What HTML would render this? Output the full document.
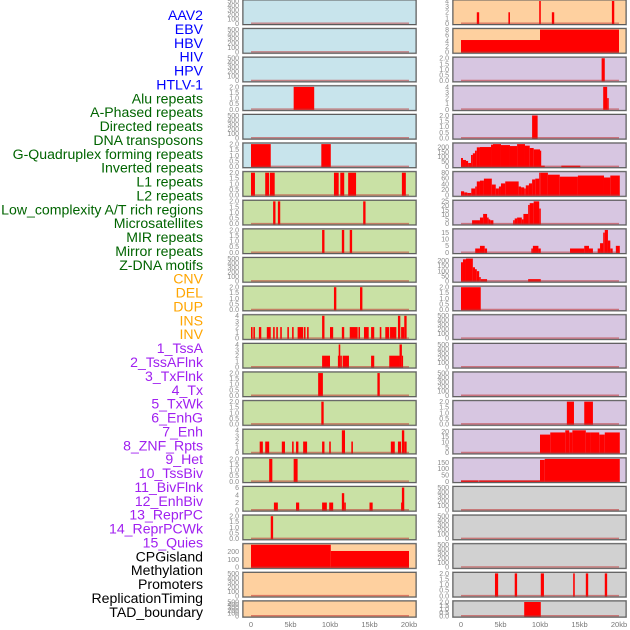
<!DOCTYPE html>
<html><head><meta charset="utf-8">
<style>
html,body{margin:0;padding:0;background:#fff;}
svg{display:block;font-family:"Liberation Sans",sans-serif;}
</style></head>
<body>
<svg id="chart" width="630" height="630" viewBox="0 0 630 630" xmlns="http://www.w3.org/2000/svg"></svg>
<script>
const trackLabels = ["AAV2","EBV","HBV","HIV","HPV","HTLV-1","Alu repeats","A-Phased repeats","Directed repeats","DNA transposons","G-Quadruplex forming repeats","Inverted repeats","L1 repeats","L2 repeats","Low_complexity A/T rich regions","Microsatellites","MIR repeats","Mirror repeats","Z-DNA motifs","CNV","DEL","DUP","INS","INV","1_TssA","2_TssAFlnk","3_TxFlnk","4_Tx","5_TxWk","6_EnhG","7_Enh","8_ZNF_Rpts","9_Het","10_TssBiv","11_BivFlnk","12_EnhBiv","13_ReprPC","14_ReprPCWk","15_Quies","CPGisland","Methylation","Promoters","ReplicationTiming","TAD_boundary"];
const labelGroups = ["v","v","v","v","v","v","r","r","r","r","r","r","r","r","r","r","r","r","r","s","s","s","s","s","c","c","c","c","c","c","c","c","c","c","c","c","c","c","c","o","o","o","o","o"];
const trackYMax = [500,500,500,2,500,2,2,2,2,500,2,4,4,2,2,4,2,6,2,290,500,500,
                   4,8,2,4,2,230,80,25,17,220,2,500,500,500,2,21,178,500,500,500,2,2];
const trackTicks = [
 [0,100,200,300,400,500],[0,100,200,300,400,500],[0,100,200,300,400,500],[0,0.5,1,1.5,2],[0,100,200,300,400,500],[0,0.5,1,1.5,2],
 [0,0.5,1,1.5,2],[0,0.5,1,1.5,2],[0,0.5,1,1.5,2],[0,100,200,300,400,500],[0,0.5,1,1.5,2],[0,1,2,3,4],[0,1,2,3,4],[0,0.5,1,1.5,2],
 [0,0.5,1,1.5,2],[0,1,2,3,4],[0,0.5,1,1.5,2],[0,2,4,6],[0,0.5,1,1.5,2],[0,100,200],[0,100,200,300,400,500],[0,100,200,300,400,500],
 [0,1,2,3,4],[0,2,4,6,8],[0,0.5,1,1.5,2],[0,1,2,3,4],[0,0.5,1,1.5,2],[0,50,100,150,200],[0,20,40,60,80],[0,5,10,15,20,25],[0,5,10,15],[0,50,100,150,200],
 [0,0.5,1,1.5,2],[0,100,200,300,400,500],[0,100,200,300,400,500],[0,100,200,300,400,500],[0,0.5,1,1.5,2],[0,5,10,15,20],[0,50,100,150],
 [0,100,200,300,400,500],[0,100,200,300,400,500],[0,100,200,300,400,500],[0,0.5,1,1.5,2],[0,0.5,1,1.5,2]];
const trackSegments = [
 [],[],[],
 [[5.4,8.0,2]],
 [],
 [[0,2.5,2],[8.9,10.1,2]],
 [[0,0.5,2],[1.8,2.3,2],[2.4,3.0,2],[10.5,11.1,2],[11.3,11.8,2],[12.3,13.3,2],[19.1,19.6,2]],
 [[2.8,3.1,2],[3.4,3.7,2],[14.2,14.5,2]],
 [[9.0,9.3,2],[11.5,11.8,2],[12.5,12.8,2]],
 [],
 [[10.5,10.8,2],[13.8,14.1,2]],
 [[0,0.2,2],[0.3,0.5,2],[1.0,1.3,2],[2.0,2.5,2],[2.8,3.0,2],[3.2,3.4,2],[3.7,3.9,2],[4.6,4.8,2],[5.2,5.4,2],[5.9,6.6,2],[6.7,6.9,2],[7.1,7.3,2],[9.0,9.3,4],[10.0,10.4,2],[11.5,11.8,2],[12.5,13.5,2],[13.6,13.8,2],[14.3,14.9,2],[15.2,15.6,2],[16.3,16.5,2],[17.0,17.5,2],[17.6,18.4,2],[18.6,18.9,4],[19.0,19.4,2],[19.4,19.7,4]],
 [[9.0,10.0,2],[11.0,11.1,2],[11.1,11.3,4],[11.3,11.5,2],[11.6,12.4,2],[15.2,15.6,2],[17.5,18.8,2],[18.8,19.1,4],[19.1,19.2,2]],
 [[8.5,9.1,2],[16.0,16.3,2]],
 [[8.9,9.2,2]],
 [[1.1,1.5,2],[1.8,2.3,2],[3.9,4.3,2],[5.2,5.4,2],[5.7,6.0,2],[6.6,7.1,2],[9.0,9.3,2],[9.9,10.1,2],[11.5,11.9,4],[12.7,12.9,2],[17.7,18.2,2],[18.6,19.0,2],[19.1,19.4,4],[19.4,19.7,2]],
 [[2.3,2.7,2],[5.4,5.9,2]],
 [[2.9,3.4,2],[5.7,6.1,2],[9.0,9.6,2],[9.9,10.4,2],[11.5,11.8,4.5],[11.8,12.0,2],[15.0,15.4,2],[19.0,19.1,2],[19.1,19.4,6]],
 [[2.5,2.8,2]],
 [[0,10.1,290],[10.1,20,210]],
 [],[],
 [[2.0,2.3,2],[6.0,6.2,2],[9.9,10.1,4],[11.5,11.8,2],[19.1,19.4,4]],
 [[0,10,4.3],[10,20,8]],
 [[17.8,18.2,2]],
 [[18.0,18.5,4],[18.5,18.7,2]],
 [[9.0,9.7,2]],
 [[0,0.25,88],[0.25,0.63,68],[0.63,0.9,58],[0.9,1.27,37],[1.27,1.5,119],[1.5,1.77,136],[1.77,2.0,163],[2.0,2.4,197],[2.4,3.8,200],[3.8,4.05,224],[4.05,5.06,237],[5.06,6.2,220],[6.2,7.1,210],[7.1,8.1,230],[8.1,8.7,214],[8.7,9.2,190],[9.2,10.0,176],[10.0,10.1,163],[10.1,10.6,10],[12.7,15.1,10]],
 [[0,0.4,14],[0.4,0.8,10],[0.8,1.3,8],[1.3,1.8,24],[1.8,2.0,31],[2.0,2.4,49],[2.4,2.9,52],[2.9,3.9,59],[3.9,4.4,38],[4.4,4.8,24],[4.8,5.06,31],[5.06,5.6,42],[5.6,7.3,49],[7.3,7.6,31],[7.6,8.0,28],[8.0,8.2,24],[8.2,8.6,35],[8.6,9.0,42],[9.0,9.4,56],[9.4,9.9,59],[9.9,10.1,80],[10.1,11.0,80],[11.0,12.5,73],[12.5,14.8,66],[14.8,18.1,70],[18.1,18.9,63],[18.9,20.1,70]],
 [[1.4,2.4,4],[2.4,2.8,7],[2.8,3.3,11],[3.3,3.5,7],[3.5,3.7,5],[3.7,4.1,4],[6.6,6.8,4],[6.8,7.1,6],[7.1,7.7,7],[7.7,7.9,5],[7.9,8.5,11],[8.5,8.7,21],[8.7,9.2,23],[9.2,9.9,25],[9.9,10.1,17]],
 [[1.8,2.4,3],[2.4,3.0,5],[3.0,3.3,3],[8.9,9.1,3],[9.1,9.8,5],[9.8,10.1,3],[13.8,15.6,3],[15.6,16.2,5],[16.2,16.7,3],[17.3,17.6,3],[17.6,18.0,7],[18.0,18.2,15],[18.2,18.6,17],[18.6,18.9,9],[18.9,19.2,3],[19.6,20.1,5]],
 [[0,0.25,184],[0.25,0.63,213],[0.63,1.5,232],[1.5,1.77,135],[1.77,2.0,116],[2.0,2.3,97],[2.3,2.5,39],[2.5,3.3,19],[8.5,10.1,19]],
 [[0,2.5,2]],
 [],[],[],
 [[13.4,14.3,2],[15.6,16.7,2]],
 [[10.0,11.3,17],[11.3,13.2,19],[13.2,13.7,21],[13.7,14.1,19],[14.1,15.8,21],[15.8,16.4,19],[16.4,17.5,19],[17.5,18.2,17],[18.2,20.1,19]],
 [[0,2.2,8],[2.3,10.0,8],[10.0,10.6,170],[10.6,20.1,178]],
 [],[],[],
 [[4.3,4.7,2],[6.8,7.1,2],[10.1,10.5,2],[14.2,14.4,2],[15.8,16.1,2],[18.2,18.5,2]],
 [[8.0,10.1,2]]
];
const xTickValues = [0,5,10,15,20];
const xTickLabels = ["0","5kb","10kb","15kb","20kb"];

const NS = "http://www.w3.org/2000/svg";
const svg = document.getElementById("chart");
function mk(tag, attrs, parent){
  const e = document.createElementNS(NS, tag);
  for (const k in attrs) e.setAttribute(k, attrs[k]);
  (parent||svg).appendChild(e);
  return e;
}
const groupColor = {v:"#0000ff", r:"#006400", s:"#ffa500", c:"#a020f0", o:"#000000"};
const groupBg = {v:"#c8e4ec", r:"#c9e1a5", s:"#fed09f", c:"#d7c6e1", o:"#d1d1d1"};

trackLabels.forEach((name,i)=>{
  const t = mk("text",{x:203,y:15+i*13.88+5,"text-anchor":"end","font-size":"14.1",fill:groupColor[labelGroups[i]]});
  
  
  t.textContent = name;
});

const PXKB = 7.9;
function xScale(col, kb){ return 251 + col*210 + kb*PXKB; }
function fmt(v, ticks){
  const dec = ticks.some(t=>t%1!==0);
  return dec ? v.toFixed(1) : String(v);
}

for (let i=0;i<44;i++){
  const col = i<22?0:1, row = i%22;
  const top = row<21 ? row*28.62 : 601;
  const h = row<21 ? 24.5 : 16;
  const px = 243 + col*210, pw = 173;
  const g = mk("g",{});
  
  
  mk("rect",{x:px-0.5,y:top-0.5,width:pw+1,height:h+1,fill:"none",stroke:"#b0b0b0","stroke-width":1},g);
  const r = mk("rect",{x:px,y:top,width:pw,height:h,fill:groupBg[labelGroups[i]],stroke:"#5a5a5a","stroke-width":1},g);
  
  
  const yMax = trackYMax[i];
  const y0 = top+h-1, y1 = top+1;
  const yScale = v => y0 - (v/yMax)*(y0-y1);
  trackTicks[i].forEach(v=>{
    const t = mk("text",{x:px-4,y:yScale(v)+2.4,"text-anchor":"end","font-size":"7",fill:"#8a8a8a"},g);
    
    
    t.textContent = fmt(v, trackTicks[i]);
  });
  trackSegments[i].forEach(s=>{
    const xa = xScale(col,s[0]), xb = xScale(col,s[1]);
    const b = mk("rect",{x:xa,y:yScale(Math.min(s[2],yMax)),width:Math.max(xb-xa,1.2),height:y0-yScale(Math.min(s[2],yMax))+0.5,fill:"#ff0000"},g);
    
    
  });
  const bl = mk("line",{x1:xScale(col,0),x2:xScale(col,20),y1:y0-0.3,y2:y0-0.3,stroke:"#c03030","stroke-opacity":0.55,"stroke-width":1.4},g);
  
  
}

for (let col=0; col<2; col++){
  xTickValues.forEach((v,k)=>{
    const t = mk("text",{x:xScale(col,v),y:627,"text-anchor":"middle","font-size":"7.5",fill:"#777"});
    
    
    t.textContent = xTickLabels[k];
  });
}
</script>
</body></html>
